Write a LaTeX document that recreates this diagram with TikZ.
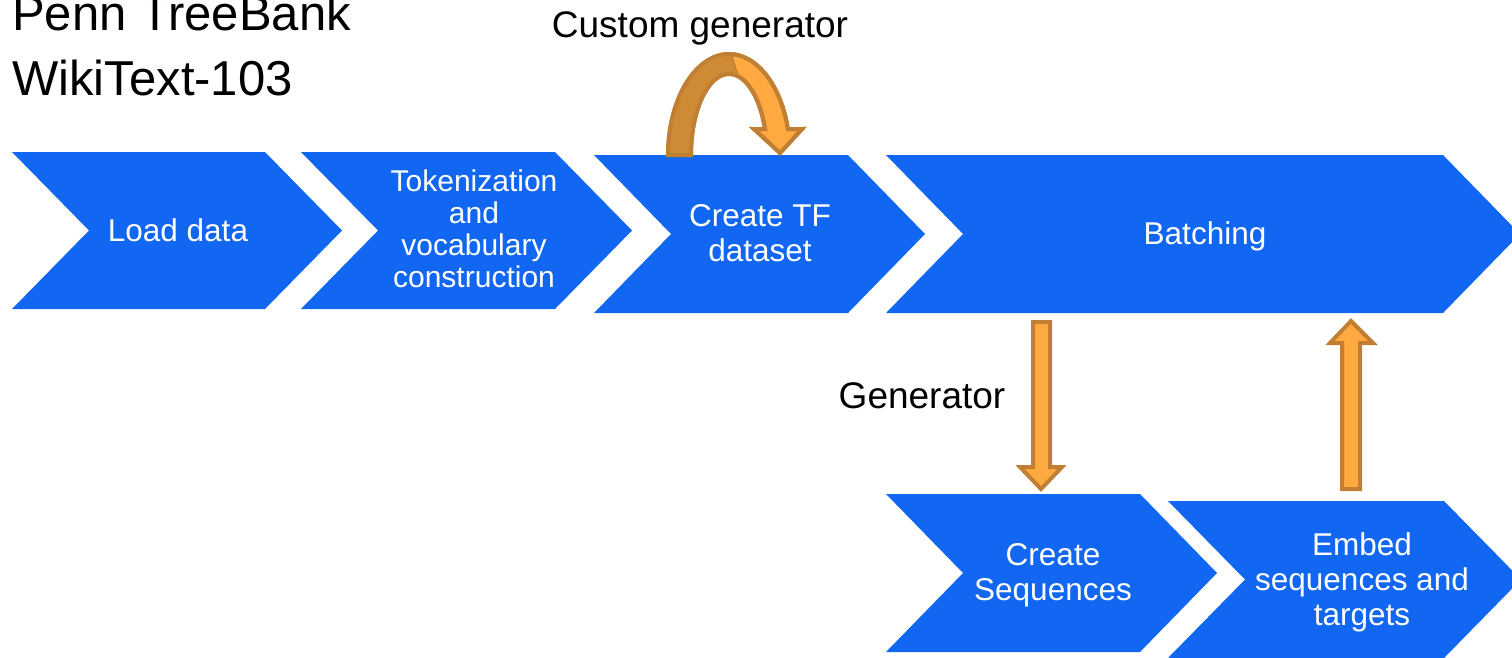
\documentclass[tikz,border=0pt]{standalone}
\usepackage{fontspec}
\setmainfont{Liberation Sans}
\definecolor{stepblue}{HTML}{1167F2}
\definecolor{arrowfill}{HTML}{FFAA40}
\definecolor{arrowdark}{HTML}{CF8A36}
\definecolor{arrowline}{HTML}{C17F33}
\tikzset{
  chev/.style={fill=stepblue},
  steptext/.style={text=white, align=center, font=\fontsize{31.5}{35}\selectfont, inner sep=0pt},
  smalltext/.style={text=white, align=center, font=\fontsize{30}{32}\selectfont, inner sep=0pt},
  labeltext/.style={text=black, font=\fontsize{37}{42}\selectfont, inner sep=0pt},
  titletext/.style={text=black, font=\fontsize{49}{56}\selectfont, inner sep=0pt},
  blockarrow/.style={fill=arrowfill, draw=arrowline, line width=4pt, line join=miter}
}
% chevron: #1 left x, #2 tip x, #3 top y, #4 bottom y, #5 point depth
\newcommand\chevron[5]{%
  \fill[chev] (#1,#3) -- ({#2-#5},#3) -- (#2,{(#3+#4)/2}) -- ({#2-#5},#4)
    -- (#1,#4) -- ({#1+#5},{(#3+#4)/2}) -- cycle;}
\begin{document}
\begin{tikzpicture}[x=1pt,y=-1pt]
\useasboundingbox (0,0) rectangle (1512,657);
\clip (0,0) rectangle (1512,657);

% pipeline steps
\chevron{12}{342}{152}{309}{77}
\chevron{301}{632}{152}{309}{77}
\chevron{594}{925}{155}{313}{77}
\chevron{886}{1520}{155}{313}{77}
\chevron{886}{1217}{494}{652}{77}
\chevron{1168}{1521}{501}{658}{77}

\node[steptext] (load) at (178,230) {Load data};
\node[smalltext] (token) at (474,229) {Tokenization\\and\\vocabulary\\construction};
\node[steptext] (tfdata) at (760,233) {Create TF\\dataset};
\node[steptext] (batch) at (1205,236) {Batching};
\node[steptext] (seq) at (1053,575) {Create\\Sequences};
\node[steptext] (embed) at (1362,582) {Embed\\sequences and\\targets};

% titles and labels
\node[titletext, anchor=base west] (ptb) at (12,30) {Penn TreeBank};
\node[titletext, anchor=base west] (wiki) at (12,95) {WikiText-103};
\node[labeltext, anchor=base] (custom) at (700,37) {Custom generator};
\node[labeltext, anchor=base] (gen) at (922,408) {Generator};

% looping arrow over the dataset step
\path[blockarrow]
  (668,155) -- plot[domain=180:14.8, samples=60] ({729+61*cos(\x)},{155-101*sin(\x)})
  -- (802,129) -- (780,153) -- (754,129)
  -- plot[domain=18.7:180, samples=60] ({729+38*cos(\x)},{155-81*sin(\x)})
  -- cycle;
\fill[arrowdark]
  (670,153) -- plot[domain=180:88, samples=50] ({729+59*cos(\x)},{155-99*sin(\x)})
  -- plot[domain=76:180, samples=50] ({729+40*cos(\x)},{155-83*sin(\x)})
  -- cycle;
\draw[arrowline, line width=4pt, line join=miter]
  (668,155) -- plot[domain=180:14.8, samples=60] ({729+61*cos(\x)},{155-101*sin(\x)})
  -- (802,129) -- (780,153) -- (754,129)
  -- plot[domain=18.7:180, samples=60] ({729+38*cos(\x)},{155-81*sin(\x)})
  -- cycle;
\draw[arrowline, line width=1.5pt] ({729+61*cos(88)},{155-101*sin(88)}) -- ({729+38*cos(76)},{155-81*sin(76)});

% Batching -> Create Sequences
\path[blockarrow] (1033,322) -- (1050,322) -- (1050,467) -- (1062,467) -- (1041,489)
  -- (1020,467) -- (1033,467) -- cycle;
% Embed -> Batching
\path[blockarrow] (1342,489) -- (1360,489) -- (1360,343) -- (1373,343) -- (1351,321)
  -- (1330,343) -- (1342,343) -- cycle;
\end{tikzpicture}
\end{document}
